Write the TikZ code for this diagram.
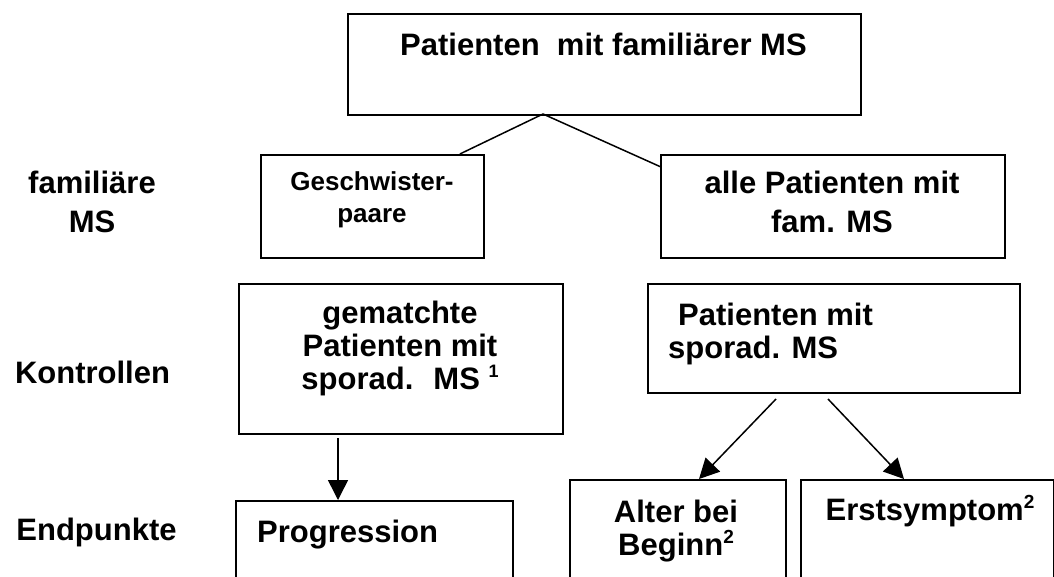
\documentclass[tikz,border=0pt]{standalone}
\usepackage{fontspec}
\setmainfont{Liberation Sans}
\usetikzlibrary{arrows.meta}
\newcommand{\hoch}[3]{\raisebox{#1}{\fontsize{#2}{#2}\selectfont #3}}

\begin{document}
\begin{tikzpicture}[x=1pt,y=-1pt,
  box/.style={draw,line width=2pt,anchor=north west,inner sep=0pt},
  txt/.style={font=\fontsize{31}{33}\selectfont\bfseries,inner sep=0pt,align=center},
  conn/.style={line width=1.5pt},
  arr/.style={line width=1.5pt,-{Triangle[width=20pt,length=20pt]}}]
\clip (0,0) rectangle (1054,576);
% boxes
\node[box,minimum width=513pt,minimum height=101pt] (top) at (347,13) {};
\node[box,minimum width=223pt,minimum height=103pt] (gesch) at (260,154) {};
\node[box,minimum width=344pt,minimum height=103pt] (alle) at (660,154) {};
\node[box,minimum width=324pt,minimum height=150pt] (gem) at (238,283) {};
\node[box,minimum width=372pt,minimum height=109pt] (spor) at (647,283) {};
\node[box,minimum width=277pt,minimum height=110pt] (prog) at (235,500) {};
\node[box,minimum width=216pt,minimum height=130pt] (alter) at (569,479) {};
\node[box,minimum width=253pt,minimum height=130pt] (erst) at (800,479) {};
% texts
\node[txt,anchor=base west] (ttop) at (400,55) {Patienten~ mit familiärer MS};
\node[txt,anchor=north,font=\fontsize{26}{32}\selectfont\bfseries] (tgesch) at (372,171) {Geschwister-\\paare};
\node[txt,anchor=north,font=\fontsize{31}{39}\selectfont\bfseries] (talle) at (832,170.5) {alle Patienten mit\\fam. MS};
\node[txt,anchor=north] (tgem) at (400,301) {gematchte\\Patienten mit\\sporad.~ MS \hoch{12pt}{18}{1}};
\node[txt,anchor=north west,align=left] (tspor) at (668,302.5) {\hspace*{10pt}Patienten mit\\sporad. MS};
\node[txt,anchor=base west] (tprog) at (257,542) {Progression};
\node[txt,anchor=north] (talter) at (676,499.5) {Alter bei\\Beginn\hoch{12pt}{19}{2}};
\node[txt,anchor=base] (terst) at (930,520) {Erstsymptom\hoch{12pt}{19}{2}};
% row labels
\node[txt,anchor=north,font=\fontsize{31}{39}\selectfont\bfseries] (lfam) at (92,170.5) {familiäre\\MS};
\node[txt,anchor=base] (lkon) at (92.5,383) {Kontrollen};
\node[txt,anchor=base] (lend) at (96.5,540) {Endpunkte};
% connectors
\coordinate (apex) at (543,114);
\draw[conn] (gesch.31) -- (apex) -- (alle.167.4);
\coordinate (pstart) at (338,438);
\draw[arr] (pstart) -- (pstart |- prog.north);
\draw[arr] ([xshift=-58pt,yshift=-5pt]spor.south) -- ([xshift=21pt]alter.north);
\draw[arr] ([xshift=-6pt,yshift=-5pt]spor.south) -- ([xshift=-23.5pt]erst.north);
\end{tikzpicture}
\end{document}
